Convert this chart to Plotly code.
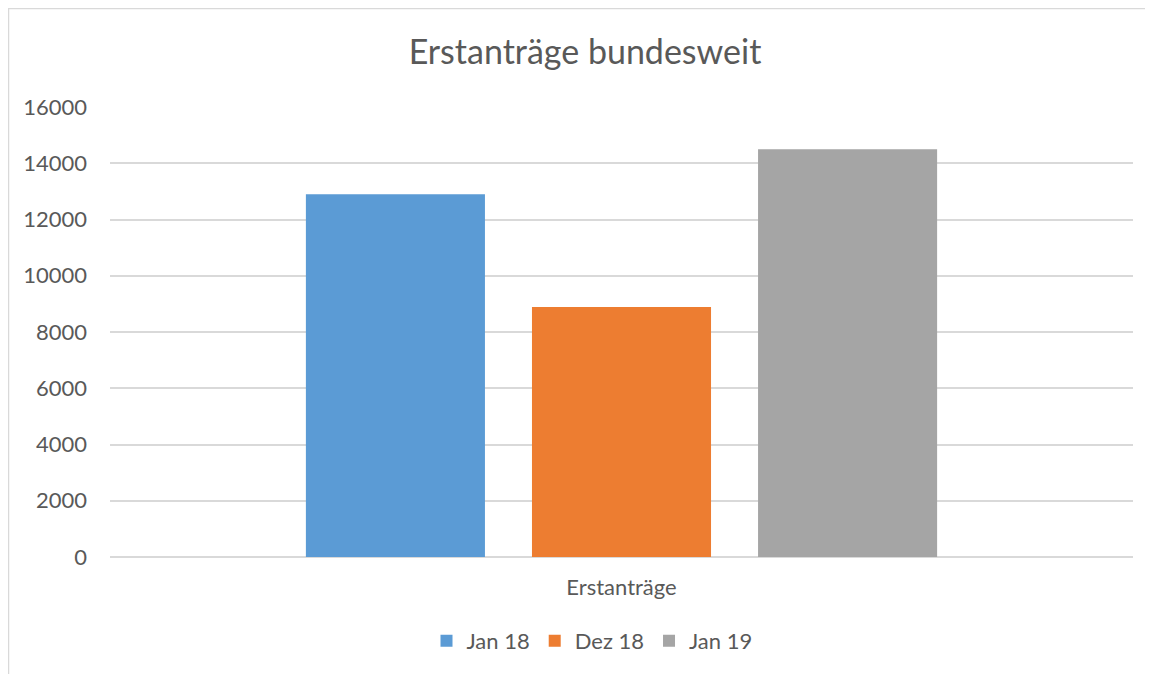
import plotly.graph_objects as go

categories = ["Erstanträge"]
series_names = ["Jan 18", "Dez 18", "Jan 19"]
series_values = [[12900], [8890], [14500]]
series_colors = ["#5B9BD5", "#ED7D31", "#A5A5A5"]
y_ticks = [0, 2000, 4000, 6000, 8000, 10000, 12000, 14000, 16000]

# page is rendered with an 8px body margin; target screen coords minus OFF = figure coords
OFF = 8
W, H = 1153 - OFF, 674 - OFF
L = 110 - OFF
T = 107 - OFF
R = W - (1133 - OFF)
B = H - (557 - OFF)
pw, ph = W - L - R, H - T - B

def px(x):
    return (x - OFF - L) / pw

def py(y):
    return (H - B - (y - OFF)) / ph

fig = go.Figure()
for name, vals, col in zip(series_names, series_values, series_colors):
    fig.add_trace(go.Bar(x=categories, y=vals, name=name, marker=dict(color=col, line=dict(width=0))))

font_fam = "Lato, 'Open Sans', sans-serif"
fig.update_layout(
    width=W, height=H,
    margin=dict(l=L, r=R, t=T, b=B, autoexpand=False),
    paper_bgcolor="white", plot_bgcolor="white",
    barmode="group", bargap=0.337, bargroupgap=0.208,
    title=dict(text="Erstanträge bundesweit", x=px(585), xref="paper", xanchor="center",
               y=1 - (52 - OFF) / H, yanchor="middle",
               font=dict(family=font_fam, size=34, color="#595959")),
    font=dict(family=font_fam, color="#595959"),
    showlegend=True,
    legend=dict(orientation="h", x=px(592), xanchor="center", y=py(641), yanchor="middle",
                font=dict(family=font_fam, size=22, color="#595959"),
                itemwidth=30, traceorder="normal"),
    xaxis=dict(showgrid=False, showline=False, zeroline=False, ticks="",
               tickfont=dict(family=font_fam, size=22, color="#595959"),
               ticklabelstandoff=15, automargin=False),
    yaxis=dict(range=[0, 16000], tickvals=y_ticks, tickformat="d",
               showgrid=True, gridcolor="#D9D9D9", gridwidth=1.5,
               zeroline=True, zerolinecolor="#D9D9D9", zerolinewidth=1.5, showline=False, ticks="",
               tickfont=dict(family=font_fam, size=22, color="#595959"),
               ticklabelstandoff=22, automargin=False),
)

border = "#D9D9D9"
fig.add_shape(type="line", xref="paper", yref="paper", x0=px(8.5), x1=px(8.5), y0=py(8), y1=py(700),
              line=dict(color=border, width=1.5))
fig.add_shape(type="line", xref="paper", yref="paper", x0=px(8), x1=px(1200), y0=py(8.5), y1=py(8.5),
              line=dict(color=border, width=1.5))

fig.write_html("out.html")
